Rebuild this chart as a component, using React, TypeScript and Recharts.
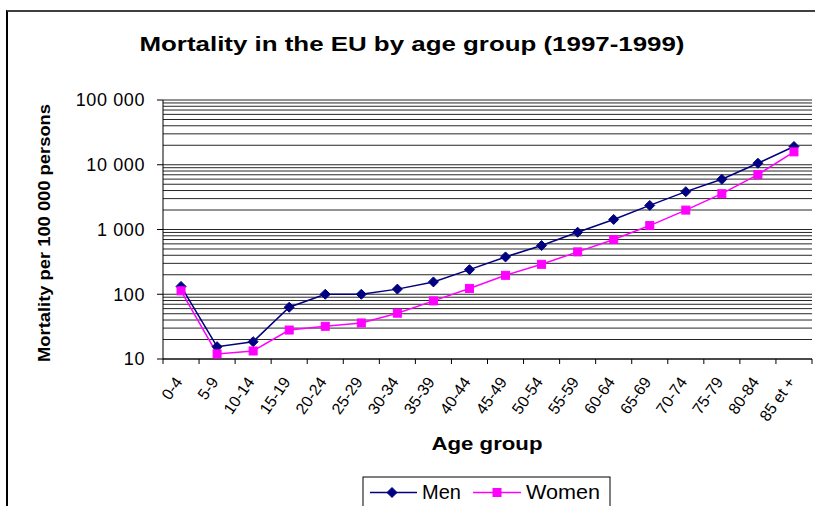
import React from 'react';
import { LineChart, Line, XAxis, YAxis, CartesianGrid } from 'recharts';

const categories = ['0-4', '5-9', '10-14', '15-19', '20-24', '25-29', '30-34', '35-39', '40-44', '45-49', '50-54', '55-59', '60-64', '65-69', '70-74', '75-79', '80-84', '85 et +'];
const men = [132, 15.5, 18.5, 63, 100, 100, 120, 155, 240, 377, 565, 908, 1430, 2355, 3840, 5960, 10550, 19150];
const women = [113, 12, 13.3, 28, 32, 36, 51, 79, 123, 196, 290, 451, 700, 1150, 1995, 3575, 7050, 15800];
const yTicks = [10, 100, 1000, 10000, 100000];
const seriesNames = ['Men', 'Women'];
const seriesColors = ['#000080', '#FF00FF'];
const chartTitle = 'Mortality in the EU by age group (1997-1999)';
const xTitle = 'Age group';
const yTitle = 'Mortality per 100 000 persons';

const data = categories.map((name, i) => ({ name, men: men[i], women: women[i] }));

// minor log gridlines: 1..9 x each decade
const gridValues: number[] = [];
yTicks.slice(0, -1).forEach((d) => {
  for (let k = 1; k <= 9; k++) gridValues.push(d * k);
});
gridValues.push(yTicks[yTicks.length - 1]);

const W = 815;
const H = 506;
const MARGIN = { top: 100, right: 3, bottom: 87, left: 0 };
const Y_AXIS_W = 163;
const X_AXIS_H = 60;
const PLOT_LEFT = MARGIN.left + Y_AXIS_W;
const PLOT_RIGHT = W - MARGIN.right;
const PLOT_BOTTOM = H - MARGIN.bottom - X_AXIS_H;
const BAND = (PLOT_RIGHT - PLOT_LEFT) / categories.length;
const FONT = '"Liberation Sans", Arial, Helvetica, sans-serif';

const fmt = (v: number) => String(v).replace(/\B(?=(\d{3})+(?!\d))/g, ' ');

const XTick = (props: any) => {
  const { x, payload } = props;
  const half = BAND / 2;
  const isLast = payload.value === categories[categories.length - 1];
  const tx = x + 2;
  const ty = PLOT_BOTTOM + 23;
  return (
    <g>
      <line x1={x - half} x2={x - half} y1={PLOT_BOTTOM} y2={PLOT_BOTTOM + 5} stroke="#000" />
      {isLast && <line x1={x + half} x2={x + half} y1={PLOT_BOTTOM} y2={PLOT_BOTTOM + 5} stroke="#000" />}
      <text
        x={tx}
        y={ty}
        transform={`rotate(-55 ${tx} ${ty})`}
        textAnchor="end"
        fontSize={16}
        fontFamily={FONT}
        fill="#000"
      >
        {payload.value}
      </text>
    </g>
  );
};

const Diamond = (props: any) => {
  const { cx, cy } = props;
  if (cx == null || cy == null) return null;
  const r = 5;
  return <polygon points={`${cx},${cy - r} ${cx + r},${cy} ${cx},${cy + r} ${cx - r},${cy}`} fill={seriesColors[0]} stroke={seriesColors[0]} />;
};

const Square = (props: any) => {
  const { cx, cy } = props;
  if (cx == null || cy == null) return null;
  const s = 8;
  return <rect x={cx - s / 2} y={cy - s / 2} width={s} height={s} fill={seriesColors[1]} stroke={seriesColors[1]} />;
};

export default function App() {
  return (
    <div style={{ position: 'absolute', left: 0, top: 0, width: W, height: H, overflow: 'hidden', background: '#fff' }}>
      <div
        style={{
          position: 'absolute',
          left: 6,
          top: 10,
          width: 1000,
          height: 1000,
          borderTop: '2px solid #404040',
          borderLeft: '2px solid #000',
        }}
      />
      <div style={{ position: 'absolute', left: 0, top: 0 }}>
        <LineChart width={W} height={H} data={data} margin={MARGIN}>
          <CartesianGrid
            vertical={false}
            horizontalValues={gridValues}
            stroke="#000"
            strokeWidth={1}
            strokeOpacity={0.85}
          />
          <XAxis
            dataKey="name"
            scale="band"
            interval={0}
            tickLine={false}
            axisLine={{ stroke: '#000' }}
            tick={<XTick />}
            height={X_AXIS_H}
          />
          <YAxis
            type="number"
            scale="log"
            domain={[10, 100000]}
            allowDataOverflow
            ticks={yTicks}
            interval={0}
            tickFormatter={fmt}
            width={Y_AXIS_W}
            tickSize={6}
            tickMargin={12}
            tickLine={{ stroke: '#000' }}
            axisLine={{ stroke: '#000' }}
            tick={{ fontSize: 18, fill: '#000', fontFamily: FONT, letterSpacing: 0.6 }}
          />
          <YAxis
            yAxisId="r"
            orientation="right"
            type="number"
            domain={[0, 1]}
            width={0}
            tick={false}
            tickLine={false}
            axisLine={{ stroke: '#808080' }}
          />
          <Line
            dataKey="men"
            name={seriesNames[0]}
            stroke={seriesColors[0]}
            strokeWidth={1.5}
            dot={<Diamond />}
            activeDot={false}
            isAnimationActive={false}
          />
          <Line
            dataKey="women"
            name={seriesNames[1]}
            stroke={seriesColors[1]}
            strokeWidth={1.5}
            dot={<Square />}
            activeDot={false}
            isAnimationActive={false}
          />
        </LineChart>
      </div>
      <svg width={W} height={H} style={{ position: 'absolute', left: 0, top: 0, pointerEvents: 'none' }}>
        <text x={412} y={51} textAnchor="middle" fontFamily={FONT} fontWeight="bold" fontSize={21} textLength={545} lengthAdjust="spacingAndGlyphs" fill="#000">
          {chartTitle}
        </text>
        <text
          x={0}
          y={0}
          transform="translate(50 233) rotate(-90)"
          textAnchor="middle"
          fontFamily={FONT}
          fontWeight="bold"
          fontSize={16}
          textLength={258}
          lengthAdjust="spacingAndGlyphs"
          fill="#000"
        >
          {yTitle}
        </text>
        <text x={487} y={450} textAnchor="middle" fontFamily={FONT} fontWeight="bold" fontSize={19} textLength={111} lengthAdjust="spacingAndGlyphs" fill="#000">
          {xTitle}
        </text>
        <rect x={363} y={477} width={247} height={60} fill="#fff" stroke="#000" strokeWidth={1} />
        <line x1={370} x2={417} y1={492.5} y2={492.5} stroke={seriesColors[0]} strokeWidth={1.5} />
        <Diamond cx={392} cy={492.5} />
        <text x={422} y={499} fontFamily={FONT} fontSize={20} fill="#000">{seriesNames[0]}</text>
        <line x1={473} x2={521} y1={492.5} y2={492.5} stroke={seriesColors[1]} strokeWidth={1.5} />
        <Square cx={497} cy={492.5} />
        <text x={526} y={499} fontFamily={FONT} fontSize={20} textLength={74} lengthAdjust="spacingAndGlyphs" fill="#000">{seriesNames[1]}</text>
      </svg>
    </div>
  );
}
